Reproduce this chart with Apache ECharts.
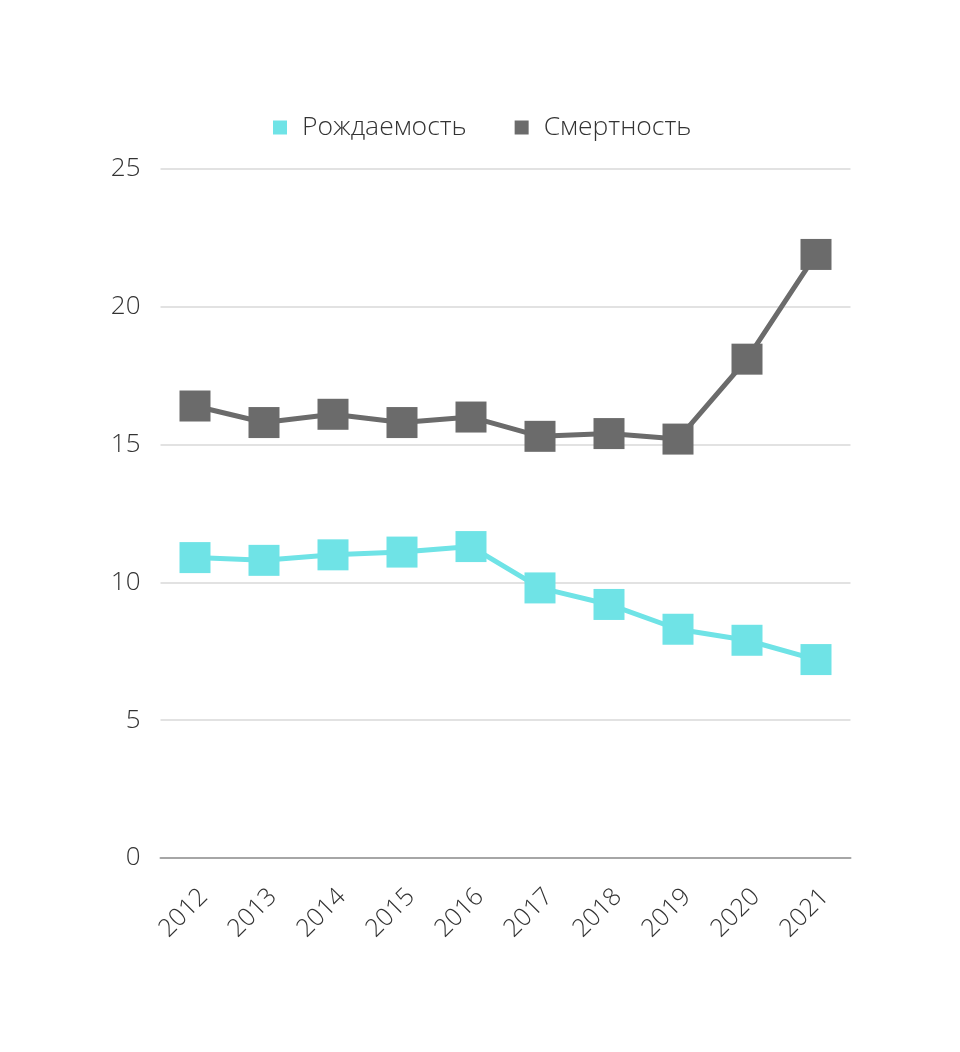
<!DOCTYPE html>
<html><head><meta charset="utf-8">
<script src="https://cdn.jsdelivr.net/npm/echarts@6/dist/echarts.min.js"></script>
<style>html,body{margin:0;padding:0;background:#fff}#c{width:960px;height:1052px}</style>
</head><body><div id="c"></div>
<script>
const years = ['2012','2013','2014','2015','2016','2017','2018','2019','2020','2021'];
const birth = [10.9, 10.8, 11.0, 11.1, 11.3, 9.8, 9.2, 8.3, 7.9, 7.2];
const death = [16.4, 15.8, 16.1, 15.8, 16.0, 15.3, 15.4, 15.2, 18.1, 21.9];
const names = ['Рождаемость', 'Смертность'];
const font = '"Open Sans", sans-serif';
const chart = echarts.init(document.getElementById('c'), null, {renderer: 'canvas'});
chart.setOption({
  animation: false,
  backgroundColor: '#fff',
  color: ['#6fe3e6', '#6b6b6b'],
  legend: {
    top: 109, left: 268, itemGap: 48, itemWidth: 14, itemHeight: 14,
    icon: 'rect',
    textStyle: {fontFamily: font, fontSize: 26.5, fontWeight: 300, color: '#333', padding: [0,0,0,10]},
    data: names
  },
  grid: {left: 160.5, right: 109.5, top: 169, bottom: 194},
  xAxis: {
    type: 'category', data: years, boundaryGap: true,
    axisLine: {lineStyle: {color: '#a6a6a6', width: 2}},
    axisTick: {show: false},
    axisLabel: {rotate: 45, margin: 26, verticalAlign: 'top', fontFamily: font, fontSize: 25, fontWeight: 300, color: '#333'}
  },
  yAxis: {
    type: 'value', min: 0, max: 25, interval: 5,
    axisLine: {show: false}, axisTick: {show: false},
    splitLine: {lineStyle: {color: '#d9d9d9', width: 1.5}},
    axisLabel: {margin: 20, fontFamily: font, fontSize: 26, fontWeight: 300, color: '#333'}
  },
  series: [
    {name: names[0], type: 'line', data: birth, symbol: 'rect', symbolSize: 31,
     lineStyle: {width: 5}, itemStyle: {color: '#6fe3e6'}},
    {name: names[1], type: 'line', data: death, symbol: 'rect', symbolSize: 31,
     lineStyle: {width: 5}, itemStyle: {color: '#6b6b6b'}}
  ]
});
</script></body></html>
